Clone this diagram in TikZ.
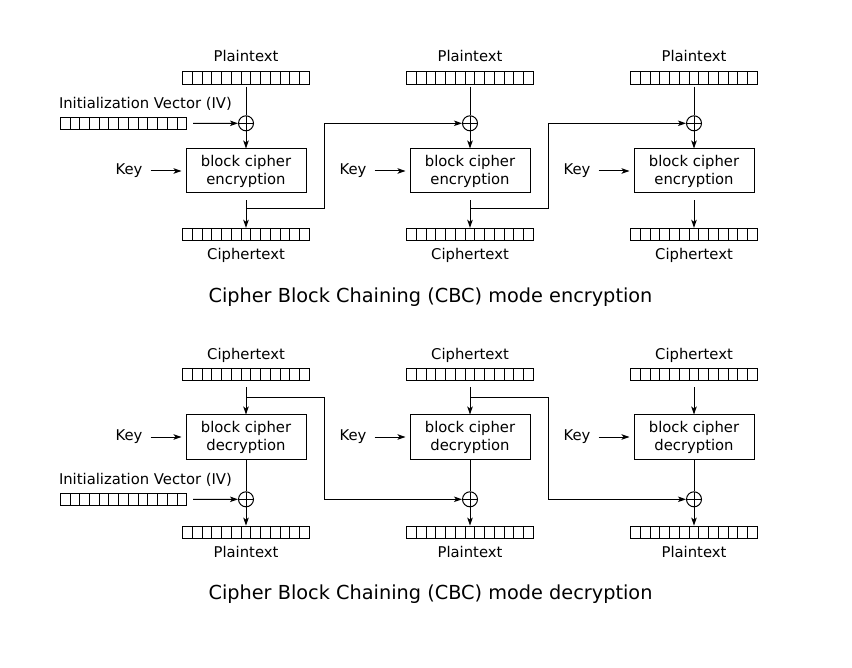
\documentclass[tikz,border=0pt]{standalone}
\usepackage{fontspec}
\setmainfont{DejaVu Sans}
\usetikzlibrary{positioning,arrows.meta}
\tikzstyle{block} = [rectangle, draw, line width=1pt, minimum width=120pt, minimum height=44pt, align=center, inner sep=0pt, font=\fontsize{14.8}{18}\selectfont]
\tikzstyle{line} = [draw, line width=1pt, -{Stealth[length=8pt,width=5.5pt,inset=2pt]}]
\tikzstyle{wire} = [draw, line width=1pt]
\tikzstyle{txt} = [inner sep=0pt, font=\fontsize{14.8}{18}\selectfont]
\tikzstyle{heading} = [inner sep=0pt, font=\fontsize{19.3}{23}\selectfont]
\tikzstyle{register} = [rectangle, draw, line width=0.9pt, minimum width=126.5pt, minimum height=12.5pt, inner sep=0pt, path picture={\foreach \k in {1,...,12} \draw[line width=0.9pt] ([xshift=\k*9.73pt]path picture bounding box.south west) -- ([xshift=\k*9.73pt]path picture bounding box.north west);}]
\tikzstyle{xorop} = [circle, draw, line width=1pt, minimum size=15pt, inner sep=0pt, path picture={\draw[line width=1pt] (path picture bounding box.north) -- (path picture bounding box.south) (path picture bounding box.west) -- (path picture bounding box.east);}]

\begin{document}
\begin{tikzpicture}[x=1pt, y=-1pt]
	\useasboundingbox (0,0) rectangle (852,668);
	% encryption
	\foreach \c/\x in {1/246, 2/470, 3/694} {
		\node[register, label={[txt, label distance=9pt]above:Plaintext}] (pe\c) at (\x,77.9) {};
		\node[xorop] (xe\c) at (\x,123.3) {};
		\node[block] (be\c) at (\x,171) {block cipher\\encryption};
		\node[txt] (ke\c) at ({\x-117},171) {Key};
		\node[register, label={[txt, label distance=7pt]below:Ciphertext}] (ce\c) at (\x,234.5) {};
		\coordinate (je\c) at (\x,209);
		\coordinate (te\c) at ({\x+78},209);
		
		\path[wire, shorten <=2pt] (pe\c) -- (xe\c);
		\path[line] (xe\c) -- (be\c);
		\path[line, shorten <=8pt, shorten >=4pt] (ke\c) -- (be\c);
		\path[line, shorten <=7pt] (be\c) -- (ce\c);
	}
	\node[register] (ive) at (123.5,123.5) {};
	\node[txt, above right=6pt and -1pt of ive.north west] (ivle) {Initialization Vector (IV)};
	\path[line, shorten <=6pt] (ive) -- (xe1);
	\path[line] (je1) -- (te1) |- (xe2);
	\path[line] (je2) -- (te2) |- (xe3);
	\node[heading] (tenc) at (430.5,297) {Cipher Block Chaining (CBC) mode encryption};
	
	% decryption
	\foreach \c/\x in {1/246, 2/470, 3/694} {
		\node[register, label={[txt, label distance=5.5pt]above:Ciphertext}] (cd\c) at (\x,374.5) {};
		\node[block] (bd\c) at (\x,437) {block cipher\\decryption};
		\node[txt] (kd\c) at ({\x-117},437) {Key};
		\node[xorop] (xd\c) at (\x,499.3) {};
		\node[register, label={[txt, label distance=7pt]below:Plaintext}] (pd\c) at (\x,532.3) {};
		\coordinate (jd\c) at (\x,397.3);
		\coordinate (td\c) at ({\x+78},397.3);
		
		\path[line, shorten <=6pt] (cd\c) -- (bd\c);
		\path[line, shorten <=8pt, shorten >=4pt] (kd\c) -- (bd\c);
		\path[wire] (bd\c) -- (xd\c);
		\path[line] (xd\c) -- (pd\c);
	}
	\node[register] (ivd) at (123.5,499.5) {};
	\node[txt, above right=6pt and -1pt of ivd.north west] (ivld) {Initialization Vector (IV)};
	\path[line, shorten <=6pt] (ivd) -- (xd1);
	\path[line] (jd1) -- (td1) |- (xd2);
	\path[line] (jd2) -- (td2) |- (xd3);
	\node[heading] (tdec) at (430.5,594) {Cipher Block Chaining (CBC) mode decryption};
\end{tikzpicture}
\end{document}
